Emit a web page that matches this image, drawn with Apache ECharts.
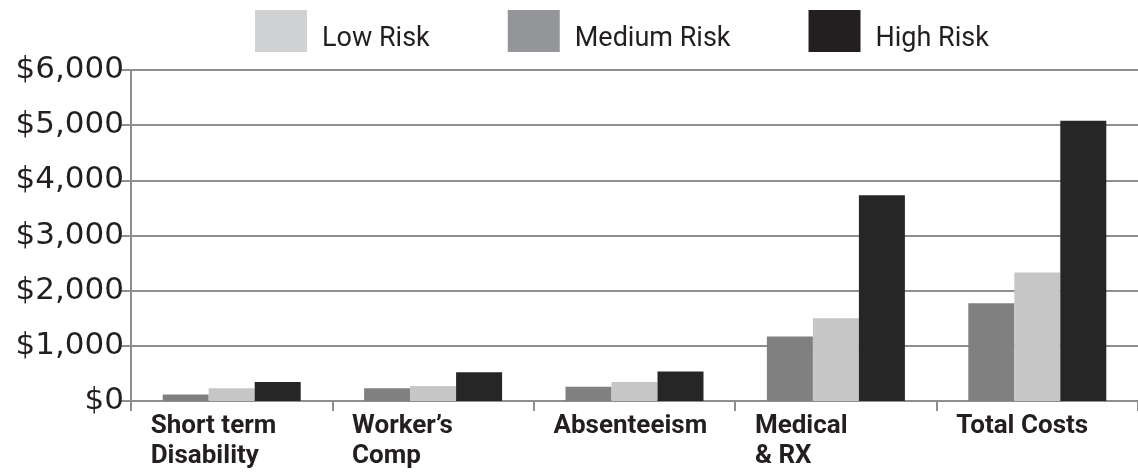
<!DOCTYPE html>
<html>
<head>
<meta charset="utf-8">
<title>Costs by Risk Level</title>
<script src="https://cdn.jsdelivr.net/npm/echarts@6/dist/echarts.min.js"></script>
<style>
  html, body { margin: 0; padding: 0; background: #ffffff; }
  #chart { width: 1138px; height: 472px; }
</style>
</head>
<body>
<div id="chart"></div>
<script>
// Cost categories along the x axis
const categories = ['Short term\nDisability', 'Worker\u2019s\nComp', 'Absenteeism', 'Medical\n& RX', 'Total Costs'];

// Average cost per employee, by risk level (USD)
const mediumRisk = [120, 230, 260, 1170, 1770];
const lowRisk = [230, 270, 345, 1500, 2330];
const highRisk = [345, 520, 535, 3730, 5080];

// Value axis tick labels
const yTickLabels = ['$0', '$1,000', '$2,000', '$3,000', '$4,000', '$5,000', '$6,000'];

// Narrow grotesque for legend and category names
const narrow = "Roboto, 'DejaVu Sans Condensed', sans-serif";
const gridGray = '#8e8e8e';
const ink = '#231f20';

const chart = echarts.init(document.getElementById('chart'), null, { renderer: 'canvas' });

chart.setOption({
  backgroundColor: '#ffffff',
  animation: false,
  legend: {
    left: 255,
    top: 10,
    padding: 0,
    icon: 'rect',
    itemWidth: 52,
    itemHeight: 42,
    itemGap: 78,
    selectedMode: false,
    data: [
      { name: 'Low Risk', itemStyle: { color: '#d1d2d4' } },
      { name: 'Medium Risk', itemStyle: { color: '#939598' } },
      { name: 'High Risk', itemStyle: { color: '#231f20' } }
    ],
    formatter: '{t|{name}}',
    textStyle: {
      rich: {
        t: {
          fontFamily: narrow,
          fontSize: 27,
          color: ink,
          padding: [16, 0, 0, 10]
        }
      }
    }
  },
  grid: {
    left: 131,
    right: -8,
    top: 70,
    bottom: 71,
    containLabel: false
  },
  xAxis: {
    type: 'category',
    data: categories,
    boundaryGap: true,
    axisLine: { show: true, lineStyle: { color: gridGray, width: 2 } },
    axisTick: { show: true, length: 10, lineStyle: { color: gridGray, width: 2 } },
    splitLine: { show: false },
    axisLabel: {
      interval: 0,
      margin: 10,
      align: 'center',
      formatter: function (value) {
        return value.split('\n').map(function (line) { return '{a|' + line + '}'; }).join('\n');
      },
      rich: {
        a: {
          width: 162,
          align: 'left',
          fontFamily: narrow,
          fontWeight: 'bold',
          fontSize: 26,
          lineHeight: 30,
          color: ink
        }
      }
    }
  },
  yAxis: {
    type: 'value',
    min: 0,
    max: 6000,
    interval: 1000,
    axisLine: { show: true, lineStyle: { color: gridGray, width: 2 } },
    axisTick: { show: true, length: 11, lineStyle: { color: gridGray, width: 2 } },
    splitLine: { show: true, lineStyle: { color: gridGray, width: 2 } },
    axisLabel: {
      margin: 7,
      fontFamily: "'DejaVu Sans', Verdana, sans-serif",
      fontSize: 31,
      color: ink,
      padding: [0, 0, 6, 0],
      formatter: function (v) { return yTickLabels[Math.round(v / 1000)]; }
    }
  },
  series: [
    {
      name: 'Medium Risk',
      type: 'bar',
      data: mediumRisk,
      barWidth: 46,
      barGap: '0%',
      itemStyle: { color: '#808080' }
    },
    {
      name: 'Low Risk',
      type: 'bar',
      data: lowRisk,
      barWidth: 46,
      barGap: '0%',
      itemStyle: { color: '#c6c6c6' }
    },
    {
      name: 'High Risk',
      type: 'bar',
      data: highRisk,
      barWidth: 46,
      barGap: '0%',
      itemStyle: { color: '#262626' }
    }
  ]
});
</script>
</body>
</html>
